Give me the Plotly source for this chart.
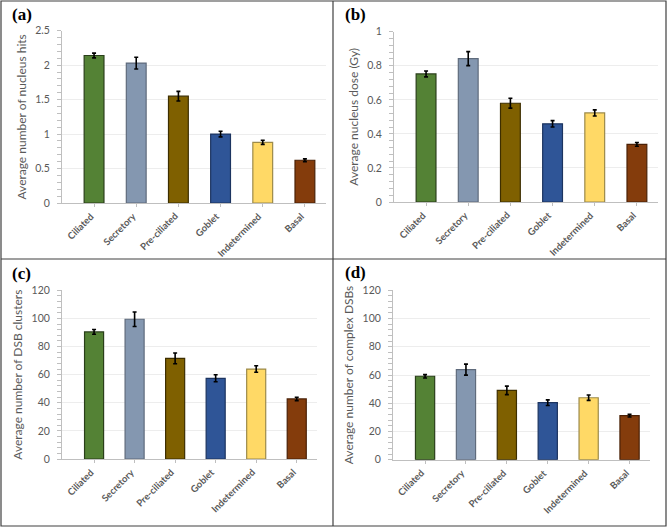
import plotly.graph_objects as go

categories = ["Ciliated", "Secretory", "Pre-ciliated", "Goblet", "Indetermined", "Basal"]

hits = [2.14, 2.03, 1.55, 1.00, 0.88, 0.62]
hits_err = [0.034, 0.085, 0.07, 0.04, 0.03, 0.02]

dose = [0.752, 0.842, 0.580, 0.459, 0.523, 0.338]
dose_err = [0.017, 0.041, 0.029, 0.019, 0.018, 0.011]

dsb = [90.4, 99.4, 71.6, 57.4, 64.0, 42.7]
dsb_err = [1.7, 5.2, 3.8, 2.5, 2.3, 1.2]

cdsb = [59.1, 63.8, 49.1, 40.4, 43.9, 31.2]
cdsb_err = [1.2, 3.9, 3.0, 2.0, 1.9, 0.9]

titles = ["Average number of nucleus hits", "Average nucleus dose (Gy)",
          "Average number of DSB clusters", "Average number of complex DSBs"]
panel_labels = ["(a)", "(b)", "(c)", "(d)"]

colors = ["#548235", "#8497B0", "#7F6000", "#2F5597", "#FFD966", "#843C0C"]
edges = ["#2a3f1a", "#5f6b7c", "#3d2e00", "#1c3460", "#9c8a4a", "#4a2006"]

W, H = 667, 527

def fx(px):
    return px / W

def fy(py):
    return 1 - py / H

panels = [
    dict(vals=hits, err=hits_err, x=(62, 326), y=(203, 30.7), rng=[0, 2.5], dtick=0.5, minor=0.1, lab=(10, 15)),
    dict(vals=dose, err=dose_err, x=(394, 658), y=(202, 31.7), rng=[0, 1.0], dtick=0.2, minor=0.04, lab=(343, 15)),
    dict(vals=dsb, err=dsb_err, x=(62, 317), y=(459, 290.3), rng=[0, 120], dtick=20, minor=4, lab=(10, 273)),
    dict(vals=cdsb, err=cdsb_err, x=(393, 650), y=(459.7, 290.3), rng=[0, 120], dtick=20, minor=4, lab=(343, 272)),
]

fig = go.Figure()
font_fam = "Lato, 'Open Sans', sans-serif"

for i, p in enumerate(panels):
    n = "" if i == 0 else str(i + 1)
    fig.add_trace(go.Bar(
        x=categories, y=p["vals"],
        error_y=dict(type="data", array=p["err"], color="black", thickness=1.6, width=2),
        marker=dict(color=colors, line=dict(color=edges, width=1.2)),
        xaxis="x" + n, yaxis="y" + n, showlegend=False,
    ))
    fig.layout["xaxis" + n] = dict(
        domain=[fx(p["x"][0]), fx(p["x"][1])], anchor="y" + n,
        showline=True, linecolor="#BFBFBF", linewidth=1,
        ticks="outside", ticklen=3, tickcolor="#BFBFBF",
        showticklabels=False,
        showgrid=False, fixedrange=True, automargin=False,
    )
    fig.layout["yaxis" + n] = dict(
        domain=[fy(p["y"][0]), fy(p["y"][1])], anchor="x" + n,
        range=p["rng"], dtick=p["dtick"], tick0=0,
        showline=True, linecolor="#BFBFBF", linewidth=1,
        ticks="outside", ticklen=4, tickcolor="#BFBFBF",
        minor=dict(ticks="outside", ticklen=4, tickcolor="#BFBFBF", dtick=p["minor"], showgrid=False),
        showgrid=True, gridcolor="#EDEDED", gridwidth=1,
        zeroline=False, ticklabelstandoff=5,
        tickfont=dict(family=font_fam, size=10.5, color="#595959"),
        title=dict(text=titles[i], font=dict(family=font_fam, size=12, color="#595959"), standoff=6),
        fixedrange=True, automargin=False,
    )
    # rotated category labels
    for c in categories:
        fig.add_annotation(
            text="<b>" + c + "</b>", xref="x" + n, yref="paper",
            x=c, y=fy(p["y"][0] + 5), xanchor="right", yanchor="top",
            xshift=4, textangle=-45, showarrow=False,
            font=dict(family=font_fam, size=9.5, color="#595959"),
        )
    fig.add_annotation(
        text="<b>" + panel_labels[i] + "</b>", xref="paper", yref="paper",
        x=fx(p["lab"][0]), y=fy(p["lab"][1]), xanchor="left", yanchor="middle",
        showarrow=False, font=dict(family="Liberation Serif, serif", size=17, color="black"),
    )

line = dict(color="#404040", width=1.2)
fig.add_shape(type="rect", xref="paper", yref="paper", x0=fx(1), x1=fx(666), y0=fy(526), y1=fy(1), line=line, layer="above")
fig.add_shape(type="line", xref="paper", yref="paper", x0=fx(333), x1=fx(333), y0=fy(526), y1=fy(1), line=line, layer="above")
fig.add_shape(type="line", xref="paper", yref="paper", x0=fx(1), x1=fx(666), y0=fy(259), y1=fy(259), line=line, layer="above")

fig.update_layout(
    width=W, height=H, margin=dict(l=0, r=0, t=0, b=0, autoexpand=False),
    paper_bgcolor="white", plot_bgcolor="white",
    bargap=0.53,
)

fig.write_html("out.html", config={"displayModeBar": False},
               post_script="document.body.style.margin='0';document.body.style.overflow='hidden';")
